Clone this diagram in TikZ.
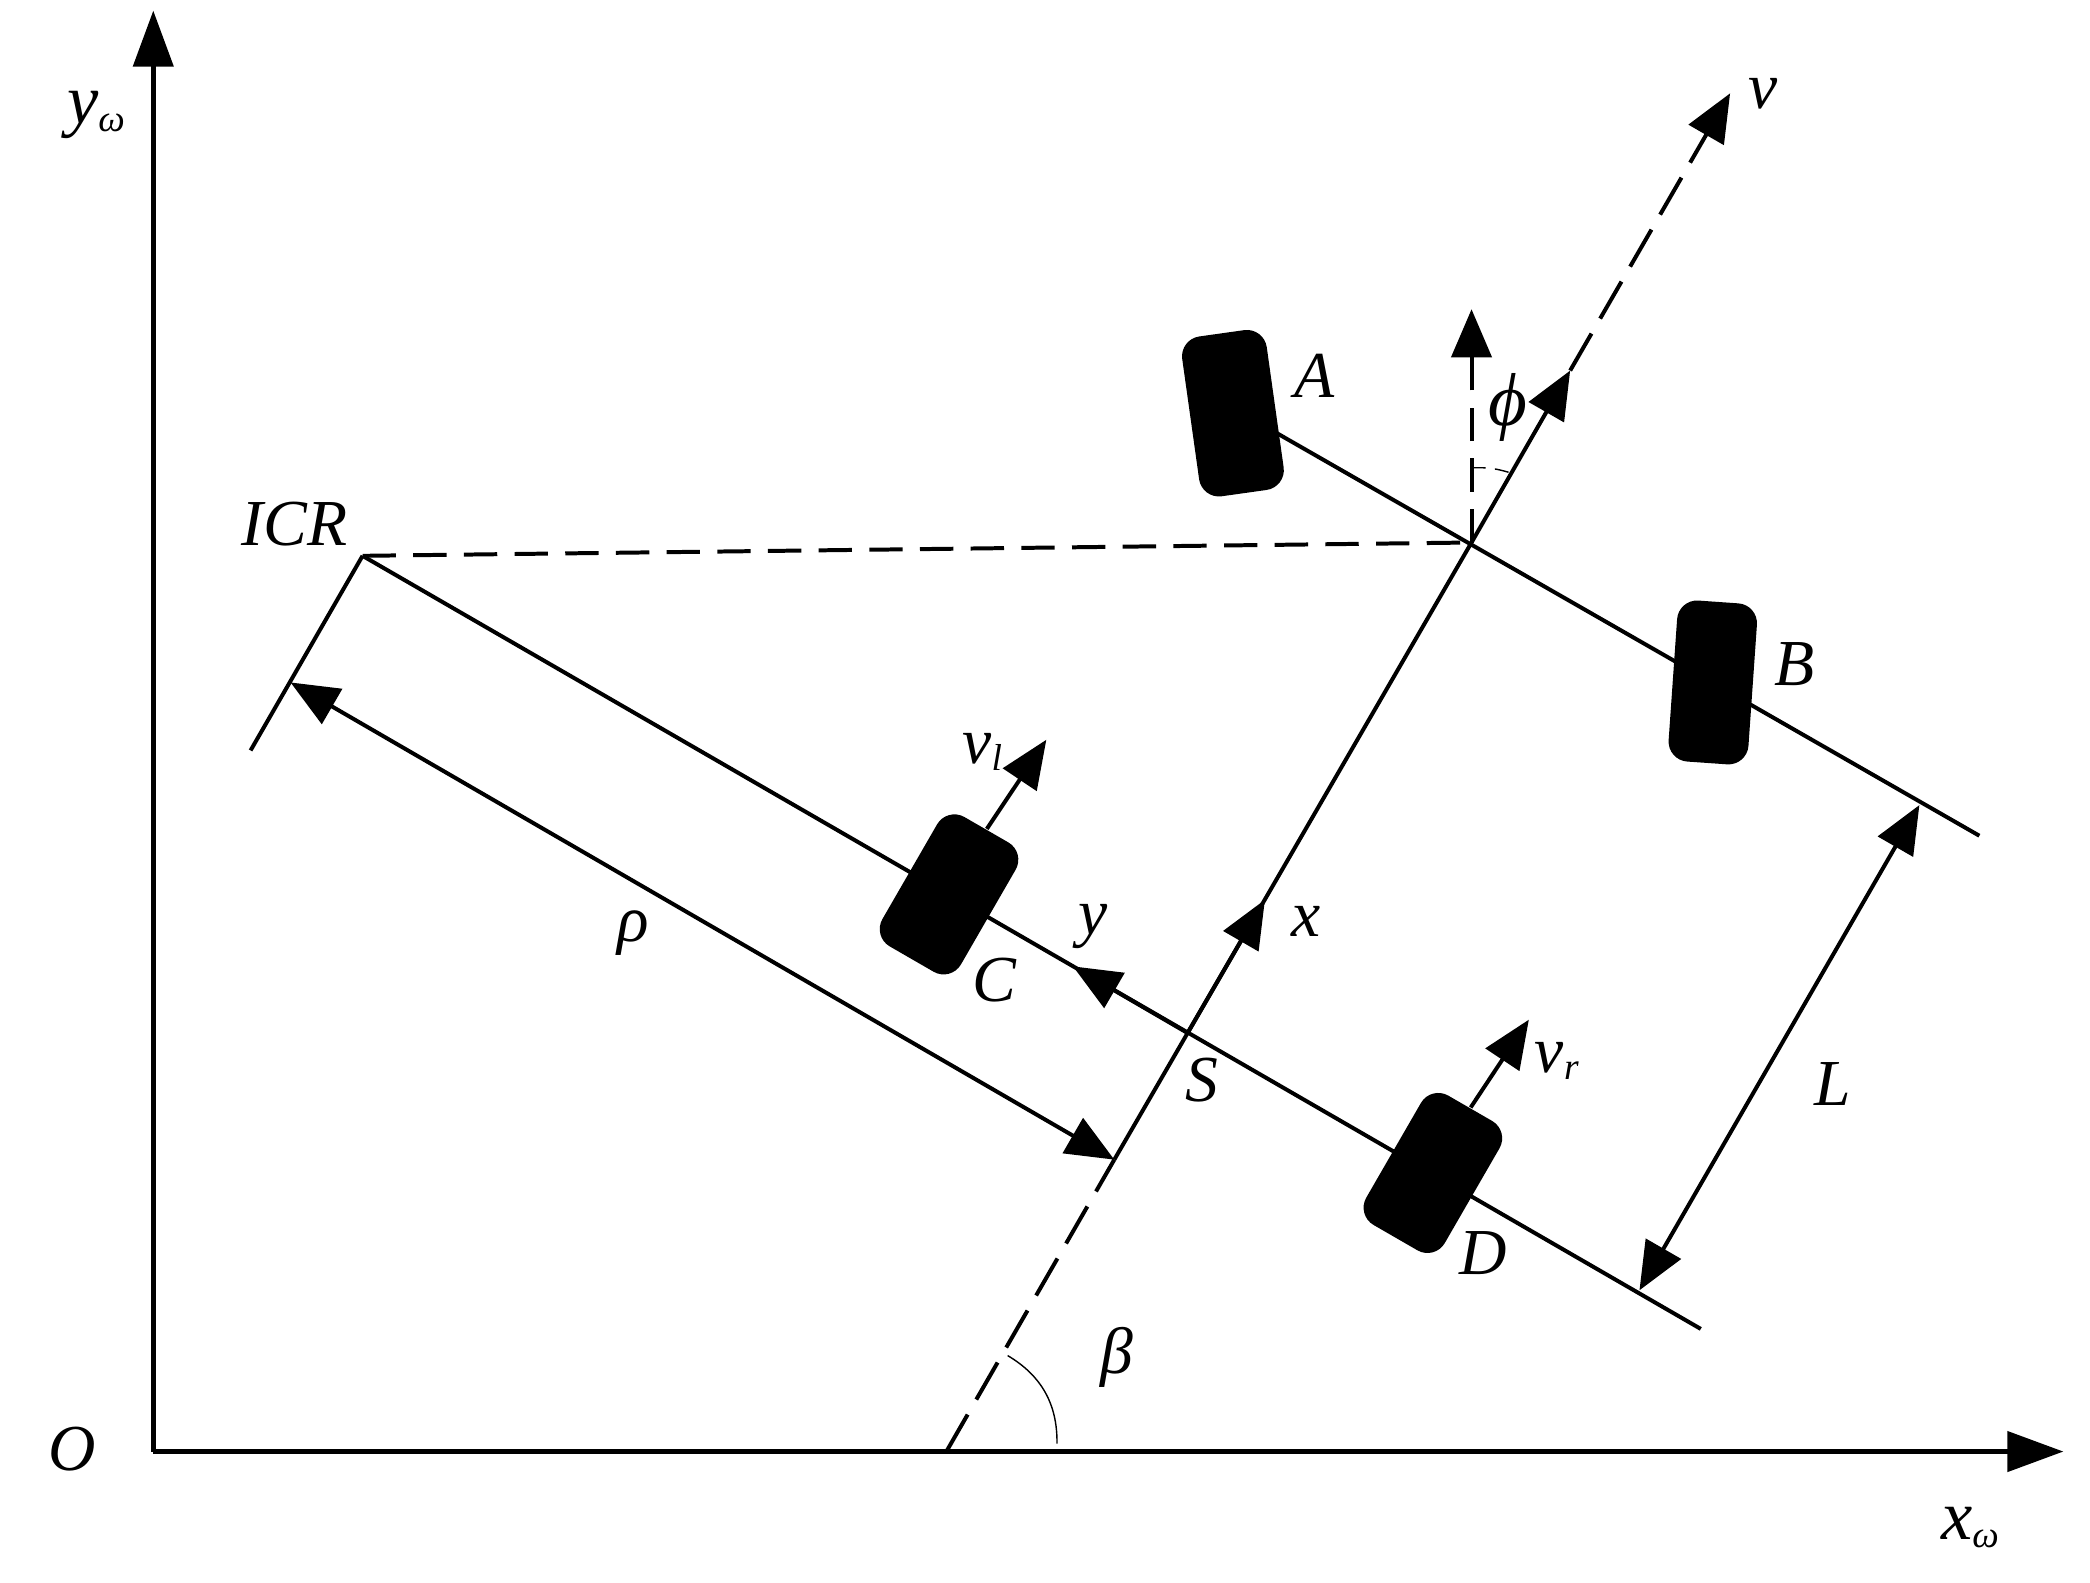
\documentclass[tikz,border=0pt]{standalone}
\usepackage{fontspec}
\setmainfont{Liberation Serif}
\usetikzlibrary{arrows.meta}
\newcommand{\smallsub}[1]{\raisebox{-.25ex}{\footnotesize #1}}
\tikzset{
  frameline/.style={line width=.95pt,-{Triangle[length=4.2mm,width=3mm]}},
  bodyline/.style={line width=.85pt},
  bodyarrow/.style={bodyline,-{Triangle[length=3.6mm,width=3mm]}},
  bothways/.style={bodyline,{Triangle[length=3.6mm,width=3mm]}-{Triangle[length=3.6mm,width=3mm]}},
  dashline/.style={bodyline,dash pattern=on 2.5mm off 1.3mm},
  longdash/.style={bodyline,dash pattern=on 3.2mm off 1.3mm},
  anglearc/.style={line width=.3pt},
  tyre/.style={fill=black,rounded corners=1.5mm,inner sep=0pt},
  lab/.style={font=\fontsize{14}{14}\selectfont\itshape,inner sep=0pt}
}
\begin{document}
\begin{tikzpicture}[x=.01cm,y=-.01cm]
        \useasboundingbox (0,0) rectangle (1568,1187);
        % Points
        \coordinate (O) at (115,1089);
        \coordinate (yTop) at (115,8);
        \coordinate (xEnd) at (1548,1089);
        \coordinate (base) at (710,1089);
        \coordinate (foot) at (836,870);
        \coordinate (xTip) at (949,675);
        \coordinate (P) at (1104,407);
        \coordinate (phiTip) at (1178,278);
        \coordinate (vTip) at (1298,70);
        \coordinate (upTip) at (1104,232);
        \coordinate (ICR) at (272,417);
        \coordinate (leftEnd) at (188,563);
        \coordinate (rhoTip) at (218,512);
        \coordinate (frontStart) at (958,325);
        \coordinate (frontEnd) at (1485,627);
        \coordinate (rearEnd) at (1276,997);
        \coordinate (S) at (891,775);
        \coordinate (yTip) at (805,725);
        \coordinate (lUp) at (1440,604);
        \coordinate (lDown) at (1230,968);
        \coordinate (vlTip) at (785,555);
        \coordinate (vrTip) at (1147,765);

        %-----------------------------------------------
        \draw[frameline] (O)--(yTop);
        \draw[frameline] (O)--(xEnd);
        %-----------------------------------------------
        \draw[longdash] (base)--(foot);
        \draw[bodyline] (foot)--(P);
        \draw[bodyarrow] (S)--(xTip);
        \draw[bodyarrow] (P)--(phiTip);
        \draw[longdash,-{Triangle[length=3.6mm,width=3mm]}] (phiTip)--(vTip);
        \draw[dashline,-{Triangle[length=3.6mm,width=3mm]}] (P)--(upTip);
        \draw[dashline] (ICR)--(P);
        %-----------------------------------------------
        \draw[bodyline] (frontStart)--(frontEnd);
        \draw[bodyline] (ICR)--(rearEnd);
        \draw[bodyline] (ICR)--(leftEnd);
        \draw[bodyarrow] (S)--(yTip);
        \draw[bothways] (rhoTip)--(foot);
        \draw[bothways] (lUp)--(lDown);
        %-----------------------------------------------
        \foreach \n/\x/\y/\r/\w/\l in {wA/925/310/8/.64/1.21,wB/1285/512/-4/.6/1.21,wC/712/671/-30/.68/1.12,wD/1075/880/-30/.68/1.12}
        \node[tyre,rotate=\r,minimum width=\w cm,minimum height=\l cm] (\n) at (\x,\y) {};
        \draw[bodyarrow] (wC.north)--(vlTip);
        \draw[bodyarrow] (wD.north)--(vrTip);
        %-----------------------------------------------
        \coordinate (phiA) at (1104,351);
        \coordinate (phiB) at (1134,355);
        \coordinate (betaA) at (756,1017);
        \coordinate (betaB) at (793,1083);
        \draw[anglearc,densely dashed] (phiA) to[bend left=10] (phiB);
        \draw[anglearc] (betaA) to[bend left=30] (betaB);
        % Text
        \foreach \n/\x/\y/\t in {O/54/1087/O,A/986/282/A,B/1346/498/B,C/746/735/C,D/1113/940/D,S/902/810/S,L/1375/813/L,x/980/691/x,y/820/695/y,v/1323/70/v,ICR/221/393/ICR,rho/475/700/ρ,beta/838/1018/β}
        \node[lab] (lab\n) at (\x,\y) {\t};
        \node[lab] (labphi) at (1131,306) {\fontsize{16}{16}\selectfont ϕ};
        \node[lab] (labyw) at (72,86) {\fontsize{15}{15}\selectfont y\smallsub{ω}};
        \node[lab] (labxw) at (1478,1146) {\fontsize{15}{15}\selectfont x\smallsub{ω}};
        \node[lab] (labvl) at (737,564) {v\smallsub{l}};
        \node[lab] (labvr) at (1168,796) {v\smallsub{r}};
\end{tikzpicture}
\end{document}
